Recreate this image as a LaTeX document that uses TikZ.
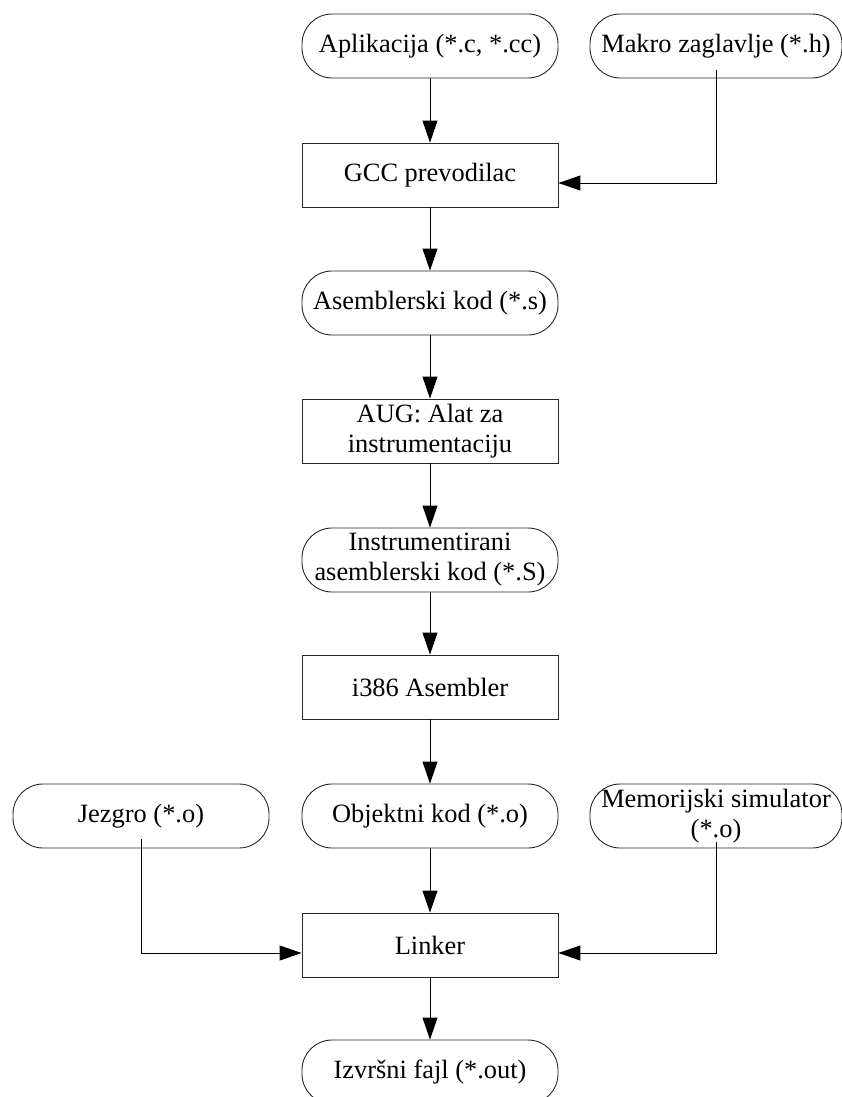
\documentclass[tikz,border=0pt]{standalone}
\usepackage{fontspec}
\setmainfont{Liberation Serif}
\usetikzlibrary{arrows.meta}
\begin{document}
\begin{tikzpicture}[x=1pt,y=-1pt,
  procbox/.style={draw=black!85, line width=0.9pt, minimum width=256pt,
    minimum height=64pt, inner sep=0pt, align=center,
    font=\fontsize{26.4}{30}\selectfont},
  databox/.style={procbox, rounded corners=30pt},
  flow/.style={line width=1pt, -{Triangle[length=22pt,width=15pt]}}]
\useasboundingbox (0,0) rectangle (842,1097);

% main column
\node[databox] (apl) at (430,46)   {Aplikacija (*.c, *.cc)};
\node[databox, minimum width=252pt] (mak) at (716,46) {Makro zaglavlje (*.h)};
\node[procbox] (gcc) at (430,175)  {GCC prevodilac};
\node[databox] (asm) at (430,303)  {Asemblerski kod (*.s)};
\node[procbox] (aug) at (430,431)  {AUG: Alat za\\instrumentaciju};
\node[databox] (ins) at (430,560)  {Instrumentirani\\asemblerski kod (*.S)};
\node[procbox] (i386) at (430,687) {i386 Asembler};
\node[databox] (obj) at (430,816)  {Objektni kod (*.o)};
\node[databox] (jez) at (141,816)  {Jezgro (*.o)};
\node[databox, minimum width=252pt] (mem) at (716,816) {Memorijski simulator\\(*.o)};
\node[procbox] (lnk) at (430,945)  {Linker};
\node[databox] (izv) at (430,1072) {Izvršni fajl (*.out)};

% flow through the tool chain
\draw[flow] (apl) -- (gcc);
\draw[flow] (gcc) -- (asm);
\draw[flow] (asm) -- (aug);
\draw[flow] (aug) -- (ins);
\draw[flow] (ins) -- (i386);
\draw[flow] (i386) -- (obj);
\draw[flow] (obj) -- (lnk);
\draw[flow] (lnk) -- (izv);

% side inputs
\draw[flow] ([yshift=8pt]mak.south) |- ([yshift=-8pt]gcc.east);
\draw[flow] ([yshift=9pt]jez.south) |- ([yshift=-8pt]lnk.west);
\draw[flow] ([yshift=6pt]mem.south) |- ([yshift=-8pt]lnk.east);
\end{tikzpicture}
\end{document}
